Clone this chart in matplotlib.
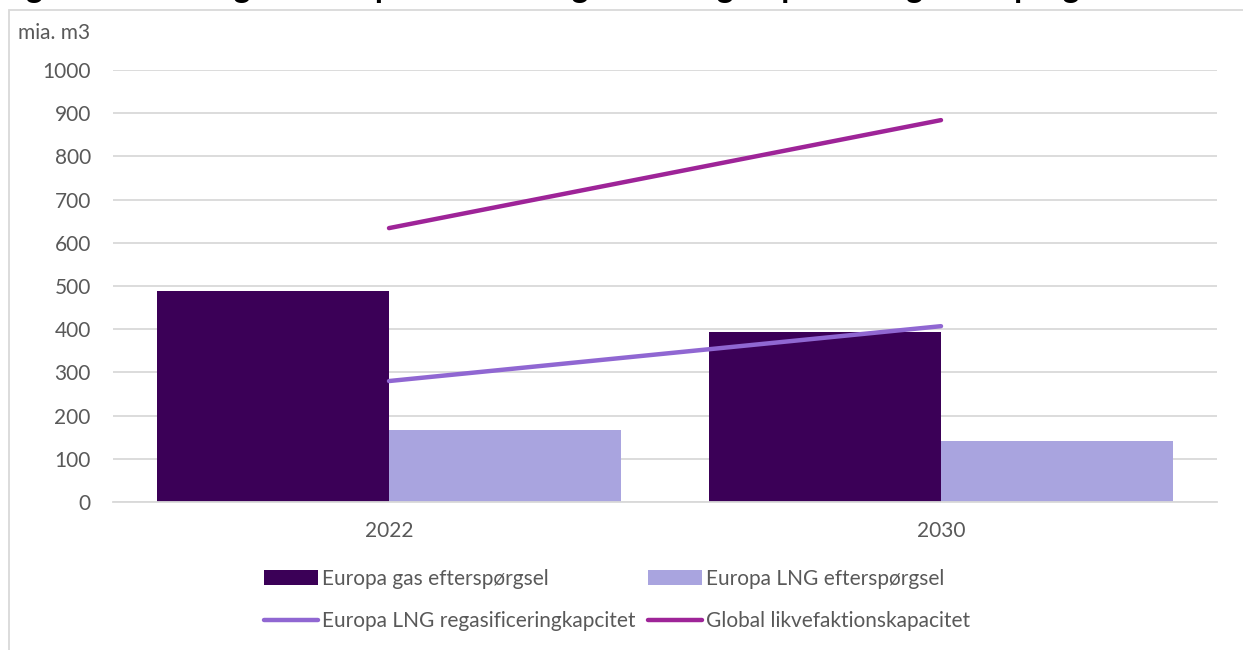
import numpy as np
import matplotlib.pyplot as plt
from matplotlib.patches import Rectangle

plt.rcParams['font.family'] = ['Lato', 'DejaVu Sans']

years = ['2022', '2030']
gas_demand = [488, 393]          # Europa gas efterspørgsel
lng_demand = [167, 141]          # Europa LNG efterspørgsel
regas_capacity = [280, 407]      # Europa LNG regasificeringkapcitet
liquefaction_capacity = [634, 884]  # Global likvefaktionskapacitet

text_grey = '#595959'
grid_grey = '#D9D9D9'
fs = 15

fig = plt.figure(figsize=(12.43, 6.5), dpi=100)
W, H = 1243, 650
ax = fig.add_axes([113 / W, 1 - 502 / H, (1217 - 113) / W, (502 - 70) / H])

x = np.arange(len(years))
bw = 232 / 552
ax.bar(x - bw / 2, gas_demand, width=bw, color='#3B0057', label='Europa gas efterspørgsel', zorder=2)
ax.bar(x + bw / 2, lng_demand, width=bw, color='#A9A4DF', label='Europa LNG efterspørgsel', zorder=2)
ax.plot(x, regas_capacity, color='#9067D2', lw=3.2, solid_capstyle='round',
        label='Europa LNG regasificeringkapcitet', zorder=3)
ax.plot(x, liquefaction_capacity, color='#9E2498', lw=3.2, solid_capstyle='round',
        label='Global likvefaktionskapacitet', zorder=3)

ax.set_xlim(-0.5, 1.5)
ax.set_ylim(0, 1000)
ax.set_yticks(np.arange(0, 1001, 100))
ax.set_xticks(x)
ax.set_xticklabels(years)
ax.yaxis.grid(True, color=grid_grey, lw=1.3, zorder=0)
ax.set_axisbelow(True)
for s in ['top', 'right', 'left']:
    ax.spines[s].set_visible(False)
ax.spines['bottom'].set_color(grid_grey)
ax.spines['bottom'].set_linewidth(1.3)
ax.tick_params(axis='both', length=0, labelsize=fs, labelcolor=text_grey)
ax.tick_params(axis='y', pad=16)
ax.tick_params(axis='x', pad=14)

fig.text(18 / W, 1 - 33 / H, 'mia. m3', fontsize=fs, color=text_grey, va='center', ha='left')

# chart frame
fig.patches.append(Rectangle((9 / W, -0.1), 1.2, 1 - 10 / H + 0.1, transform=fig.transFigure,
                             fill=False, edgecolor=grid_grey, lw=1.3))

# title, cut off by the top edge as in the source
fig.text(0.0, 1 + 2 / H, 'Figur 3: Udviklingen i europæisk LNG-regasificeringskapacitet og efterspørgsel',
         fontsize=23, fontweight='bold', va='baseline', ha='left', color='black')

hb, lb = ax.get_legend_handles_labels()
hmap = dict(zip(lb, hb))
leg_order = ['Europa gas efterspørgsel', 'Europa LNG regasificeringkapcitet',
             'Europa LNG efterspørgsel', 'Global likvefaktionskapacitet']
fig.legend([hmap[k] for k in leg_order], leg_order, ncol=2, frameon=False,
           loc='center', bbox_to_anchor=(617 / W, 1 - 600 / H),
           fontsize=fs, labelcolor=text_grey, handlelength=2.6, handleheight=0.7,
           handletextpad=0.2, columnspacing=0.6, labelspacing=1.05)

fig.savefig('out.png', dpi=100)
